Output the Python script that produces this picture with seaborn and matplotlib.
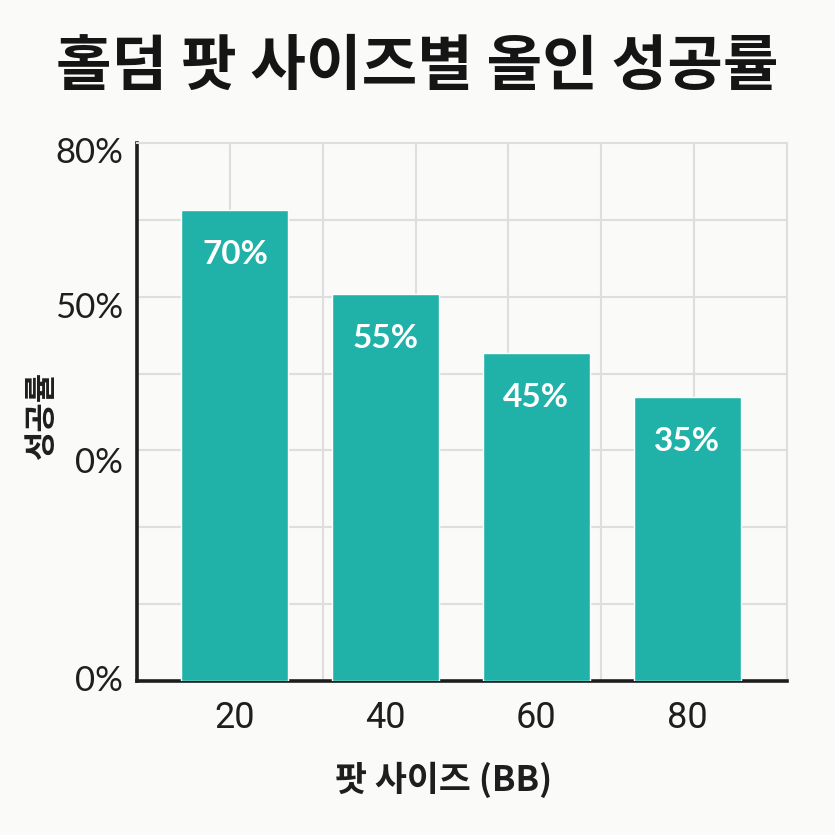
import numpy as np
import pandas as pd
import matplotlib
matplotlib.use("Agg")
import matplotlib.pyplot as plt
import seaborn as sns

# ---- data ----
pot_sizes = ["20", "40", "60", "80"]
bar_heights = [70, 57.5, 48.8, 42.2]          # drawn heights on a 0-80 axis
bar_labels = ["70%", "55%", "45%", "35%"]     # printed labels inside bars
ytick_values = [79, 55.9, 32.9, 0.4]
ytick_labels = ["80%", "50%", "0%", "0%"]
title = "홀덤 팟 사이즈별 올인 성공률"
xlabel = "팟 사이즈 (BB)"
ylabel = "성공률"

sns.set_theme(style="white")
plt.rcParams['font.family'] = ['Noto Sans CJK KR', 'DejaVu Sans']

bg = "#fafaf8"
bar_color = "#20b2a8"
dark = "#1e1e1e"
fig = plt.figure(figsize=(8.35, 8.35), dpi=100, facecolor=bg)
ax = fig.add_axes([137/835, 1-681/835, 650/835, 538/835])
ax.set_facecolor(bg)

df = pd.DataFrame({"pot": pot_sizes, "rate": bar_heights})
sns.barplot(data=df, x="pot", y="rate", color=bar_color, saturation=1,
            width=0.71, ax=ax, zorder=3)

ax.set_xlim(-0.65, 3.663)
ax.set_ylim(0, 80)
ax.set_axisbelow(True)

# grid (7 x 7 cells)
ax.set_yticks(np.arange(1, 7) * 80 / 7, minor=True)
ax.set_xticks([(92.86 * k - 98) / 150.7 for k in range(1, 7)], minor=True)
ax.grid(which='minor', color='#dedede', linewidth=1.5)
ax.grid(which='major', visible=False)
ax.tick_params(which='minor', length=0)

ax.set_yticks(ytick_values)
ax.set_yticklabels(ytick_labels, family=['Lato', 'DejaVu Sans'])
for t in ax.get_xticklabels():
    t.set_family(['Roboto', 'DejaVu Sans'])
ax.tick_params(axis='y', which='major', length=0, pad=10, labelsize=25, labelcolor=dark)
ax.tick_params(axis='x', which='major', length=0, pad=14, labelsize=26, labelcolor=dark)

for s in ['left', 'bottom']:
    ax.spines[s].set_color(dark)
    ax.spines[s].set_linewidth(2.6)
for s in ['top', 'right']:
    ax.spines[s].set_color('#dedede')
    ax.spines[s].set_linewidth(1.5)

for i, (h, lab) in enumerate(zip(bar_heights, bar_labels)):
    ax.text(i, h - 6.6, lab, ha='center', va='center', color='white',
            fontsize=24, fontweight='bold', family=['Lato', 'DejaVu Sans'], zorder=4)

ax.set_xlabel(xlabel, fontsize=25, fontweight='bold', color=dark)
ax.xaxis.set_label_coords(0.471, -0.184)
ax.xaxis.label.set_va('center')
ax.set_ylabel(ylabel, fontsize=23, fontweight='bold', color=dark)
ax.yaxis.set_label_coords(-0.146, 0.494)
ax.yaxis.label.set_va('center')

fig.text(0.5, 1 - 67/835, title, ha='center', va='center', fontsize=43.5,
         fontweight=900, color='#151515')

fig.savefig("out.png", dpi=100, facecolor=bg)
